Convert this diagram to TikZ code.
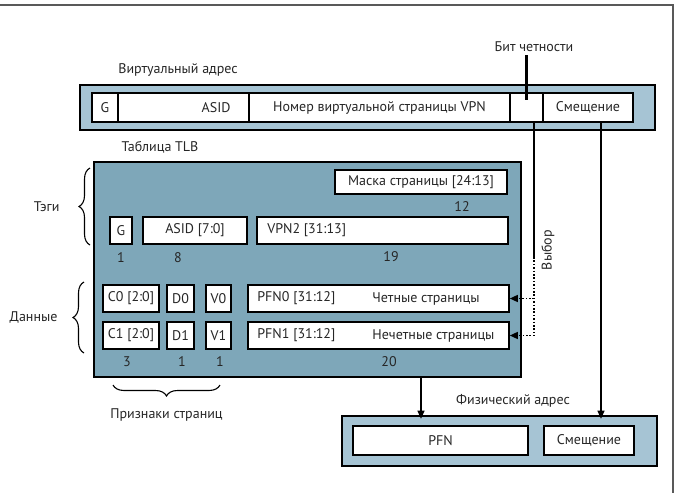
\documentclass[tikz,border=0pt]{standalone}
\usepackage{fontspec}
\setmainfont{PT Sans}
\usetikzlibrary{arrows.meta,positioning,calc,decorations.pathreplacing}
\definecolor{addrfill}{RGB}{166,196,212}
\definecolor{tlbfill}{RGB}{126,167,185}

\begin{document}
\begin{tikzpicture}[
      x=1pt, y=-1pt,
      every node/.style={font=\fontsize{14}{16}\selectfont,inner sep=0pt,text=black!85},
      addr/.style={rectangle,draw,line width=2.6pt,fill=addrfill},
      tlbbox/.style={rectangle,draw,line width=1.3pt,fill=tlbfill},
      cell/.style={rectangle,draw,line width=1.6pt,fill=white},
      brc/.style={decorate,decoration={brace,amplitude=11pt},line width=1.1pt},
      wire/.style={line width=1.2pt},
      dots/.style={line width=1.4pt,dash pattern=on 1.6pt off 1.8pt},
      >={Triangle[length=8pt,width=7pt]}
  ]
  \useasboundingbox (0,0) rectangle (678,493);

  % рамка
  \draw[line width=1.2pt,black!65] (0,5) -- (673,5) -- (673,493);

  % ===================== Виртуальный адрес =====================
  \node[addr,minimum width=575pt,minimum height=45pt] (virt) at (367.5,107.5) {};
  \node (virtlbl) at (178,70) {Виртуальный адрес};

  \node[cell,minimum width=26pt,minimum height=29pt] (vg) at (105,107.5) {G};
  \node[cell,minimum width=131pt,minimum height=29pt] (vasid) at (183.5,107.5) {};
  \node[anchor=east] (vasidtxt) at ([xshift=-19pt]vasid.east) {ASID};
  \node[cell,minimum width=261pt,minimum height=29pt] (vvpn) at (379.5,107.5) {Номер виртуальной страницы VPN};
  \node[cell,minimum width=33pt,minimum height=29pt] (vpar) at (526.5,107.5) {};
  \node[cell,minimum width=90pt,minimum height=29pt] (voff) at (588,107.5) {Смещение};

  % бит четности
  \node (parlbl) at (534,47) {Бит четности};
  \draw[line width=2.2pt] ([yshift=-3pt]vpar |- parlbl.south) -- ($(vpar.center)+(0,-8)$);

  % ===================== Таблица TLB =====================
  \node[tlbbox,minimum width=427pt,minimum height=215pt] (tlb) at (307.5,269.5) {};
  \node (tlblbl) at (160,147) {Таблица TLB};

  \node[cell,minimum width=172pt,minimum height=24pt] (mask) at (421,182) {Маска страницы [24:13]};
  \node (nmask) at (462,207) {12};

  % тэги
  \node[cell,minimum width=22pt,minimum height=27pt] (tg) at (121,230.5) {G};
  \node[cell,minimum width=104pt,minimum height=27pt] (tasid) at (195,230.5) {ASID [7:0]};
  \node[cell,minimum width=251pt,minimum height=27pt] (vpn2) at (382.5,230.5) {};
  \node[anchor=west] (vpn2txt) at ([xshift=11pt]vpn2.west) {VPN2 [31:13]};
  \node (ng) at (121,258) {1};
  \node (nasid) at (178,258) {8};
  \node (nvpn2) at (391,257) {19};

  % данные
  \node[cell,minimum width=56pt,minimum height=27pt] (c0) at (131,298.5) {C0 [2:0]};
  \node[cell,minimum width=27pt,minimum height=27pt] (d0) at (180.5,298.5) {D0};
  \node[cell,minimum width=25pt,minimum height=27pt] (v0) at (218.5,298.5) {V0};
  \node[cell,minimum width=261pt,minimum height=27pt] (pfn0) at (378.5,298.5) {};
  \node[anchor=west] (pfn0txt) at ([xshift=10pt]pfn0.west) {PFN0 [31:12]};
  \node[anchor=west] (pfn0kind) at ([xshift=125pt]pfn0.west) {Четные страницы};

  \node[cell,minimum width=56pt,minimum height=27pt] (c1) at (131,335.5) {C1 [2:0]};
  \node[cell,minimum width=27pt,minimum height=27pt] (d1) at (180.5,335.5) {D1};
  \node[cell,minimum width=25pt,minimum height=27pt] (v1) at (218.5,335.5) {V1};
  \node[cell,minimum width=261pt,minimum height=27pt] (pfn1) at (378.5,335.5) {};
  \node[anchor=west] (pfn1txt) at ([xshift=10pt]pfn1.west) {PFN1 [31:12]};
  \node[anchor=west] (pfn1kind) at ([xshift=125pt]pfn1.west) {Нечетные страницы};

  \node (nc) at (127,362) {3};
  \node (nd) at (182,362) {1};
  \node (nv) at (220,362) {1};
  \node (npfn) at (389,362) {20};

  % фигурные скобки
  \draw[brc] (90,245) -- (90,168) node[midway,left=30pt] (tagslbl) {Тэги};
  \draw[brc] (84,353) -- (84,282) node[midway,left=26pt] (datalbl) {Данные};
  \draw[brc] (220,385) -- (113,385) node[midway,below=23pt] (flagslbl) {Признаки страниц};

  % ===================== Физический адрес =====================
  \node[addr,minimum width=315pt,minimum height=50pt] (phys) at (499.5,441) {};
  \node (physlbl) at (513,401) {Физический адрес};
  \node[cell,minimum width=175pt,minimum height=29pt] (ppfn) at (440.5,440.5) {PFN};
  \node[cell,minimum width=90pt,minimum height=29pt] (poff) at (589,440.5) {Смещение};

  % ===================== связи =====================
  \coordinate (pfnx) at (421,0);
  \coordinate (offx) at (601,0);
  \coordinate (selx) at (534,0);
  \coordinate (selmid) at (534,257);

  \draw[wire,->] (tlb.south -| pfnx) -- ([yshift=-4pt]phys.north -| pfnx);
  \draw[wire,->] (voff.south -| offx) -- ([yshift=-4pt]phys.north -| offx);

  % выбор четной/нечетной страницы
  \draw[wire] (vpar.south -| selx) -- (selmid);
  \draw[dots,->] (selmid) |- (pfn1.east);
  \draw[dots,->] (pfn0.east -| selx) -- (pfn0.east);
  \node[rotate=90] (sellbl) at (548,250) {Выбор};

\end{tikzpicture}
\end{document}
